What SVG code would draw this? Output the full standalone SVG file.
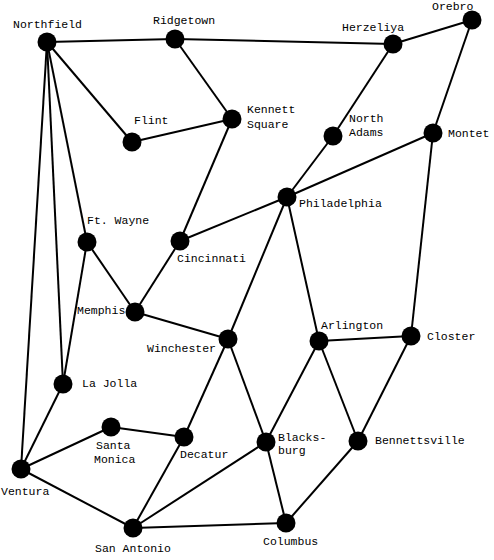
<svg xmlns="http://www.w3.org/2000/svg" width="494" height="560" viewBox="0 0 494 560">
<style>
.e{stroke:#000;stroke-width:2;fill:none}
.n circle{fill:#000}
text{font-family:"Liberation Mono","Courier New",monospace;font-size:11.5px;fill:#000}
</style>
<rect width="494" height="560" fill="#fff"/>
<g id="connectors" class="e">
<line x1="47" y1="42" x2="175" y2="39"/>
<line x1="175" y1="39" x2="393" y2="44"/>
<line x1="393" y1="44" x2="472" y2="20"/>
<line x1="47" y1="42" x2="132" y2="142"/>
<line x1="132" y1="142" x2="232" y2="119"/>
<line x1="175" y1="39" x2="232" y2="119"/>
<line x1="232" y1="119" x2="180" y2="241"/>
<line x1="393" y1="44" x2="333" y2="136"/>
<line x1="333" y1="136" x2="287" y2="197"/>
<line x1="472" y1="20" x2="433" y2="133"/>
<line x1="433" y1="133" x2="287" y2="197"/>
<line x1="287" y1="197" x2="180" y2="241"/>
<line x1="287" y1="197" x2="228" y2="339"/>
<line x1="287" y1="197" x2="319" y2="341"/>
<line x1="433" y1="133" x2="411" y2="336"/>
<line x1="47" y1="42" x2="87" y2="242"/>
<line x1="47" y1="42" x2="63" y2="384"/>
<line x1="47" y1="42" x2="21" y2="469"/>
<line x1="87" y1="242" x2="63" y2="384"/>
<line x1="87" y1="242" x2="135" y2="312"/>
<line x1="180" y1="241" x2="135" y2="312"/>
<line x1="135" y1="312" x2="228" y2="339"/>
<line x1="228" y1="339" x2="184" y2="437"/>
<line x1="228" y1="339" x2="266" y2="442"/>
<line x1="319" y1="341" x2="411" y2="336"/>
<line x1="319" y1="341" x2="266" y2="442"/>
<line x1="319" y1="341" x2="358" y2="441"/>
<line x1="411" y1="336" x2="358" y2="441"/>
<line x1="63" y1="384" x2="21" y2="469"/>
<line x1="21" y1="469" x2="111" y2="427"/>
<line x1="111" y1="427" x2="184" y2="437"/>
<line x1="21" y1="469" x2="133" y2="528"/>
<line x1="184" y1="437" x2="133" y2="528"/>
<line x1="133" y1="528" x2="266" y2="442"/>
<line x1="133" y1="528" x2="286" y2="523"/>
<line x1="266" y1="442" x2="286" y2="523"/>
<line x1="358" y1="441" x2="286" y2="523"/>
</g>
<g id="Northfield" class="n"><circle cx="47" cy="42" r="9.5"/><text x="13" y="28">Northfield</text></g>
<g id="Ridgetown" class="n"><circle cx="175" cy="39" r="9.5"/><text x="153" y="24">Ridgetown</text></g>
<g id="Herzeliya" class="n"><circle cx="393" cy="44" r="9.5"/><text x="342" y="31">Herzeliya</text></g>
<g id="Orebro" class="n"><circle cx="472" cy="20" r="9.5"/><text x="432" y="10">Orebro</text></g>
<g id="Flint" class="n"><circle cx="132" cy="142" r="9.5"/><text x="134" y="124">Flint</text></g>
<g id="KennettSquare" class="n"><circle cx="232" cy="119" r="9.5"/><text x="247" y="113">Kennett</text><text x="247" y="128">Square</text></g>
<g id="NorthAdams" class="n"><circle cx="333" cy="136" r="9.5"/><text x="349" y="122">North</text><text x="349" y="135.5">Adams</text></g>
<g id="Montet" class="n"><circle cx="433" cy="133" r="9.5"/><text x="448" y="137">Montet</text></g>
<g id="Philadelphia" class="n"><circle cx="287" cy="197" r="9.5"/><text x="299" y="207">Philadelphia</text></g>
<g id="FtWayne" class="n"><circle cx="87" cy="242" r="9.5"/><text x="87" y="224">Ft. Wayne</text></g>
<g id="Cincinnati" class="n"><circle cx="180" cy="241" r="9.5"/><text x="177" y="262">Cincinnati</text></g>
<g id="Memphis" class="n"><circle cx="135" cy="312" r="9.5"/><text x="77" y="314">Memphis</text></g>
<g id="Winchester" class="n"><circle cx="228" cy="339" r="9.5"/><text x="147" y="352">Winchester</text></g>
<g id="Arlington" class="n"><circle cx="319" cy="341" r="9.5"/><text x="321" y="329">Arlington</text></g>
<g id="Closter" class="n"><circle cx="411" cy="336" r="9.5"/><text x="427" y="340">Closter</text></g>
<g id="LaJolla" class="n"><circle cx="63" cy="384" r="9.5"/><text x="82" y="387">La Jolla</text></g>
<g id="SantaMonica" class="n"><circle cx="111" cy="427" r="9.5"/><text x="96" y="449">Santa</text><text x="94" y="462.5">Monica</text></g>
<g id="Decatur" class="n"><circle cx="184" cy="437" r="9.5"/><text x="180" y="458">Decatur</text></g>
<g id="Blacksburg" class="n"><circle cx="266" cy="442" r="9.5"/><text x="278" y="441">Blacks-</text><text x="278" y="454">burg</text></g>
<g id="Bennettsville" class="n"><circle cx="358" cy="441" r="9.5"/><text x="375" y="444">Bennettsville</text></g>
<g id="Ventura" class="n"><circle cx="21" cy="469" r="9.5"/><text x="1" y="495">Ventura</text></g>
<g id="SanAntonio" class="n"><circle cx="133" cy="528" r="9.5"/><text x="95" y="552">San Antonio</text></g>
<g id="Columbus" class="n"><circle cx="286" cy="523" r="9.5"/><text x="263" y="545">Columbus</text></g>
</svg>
